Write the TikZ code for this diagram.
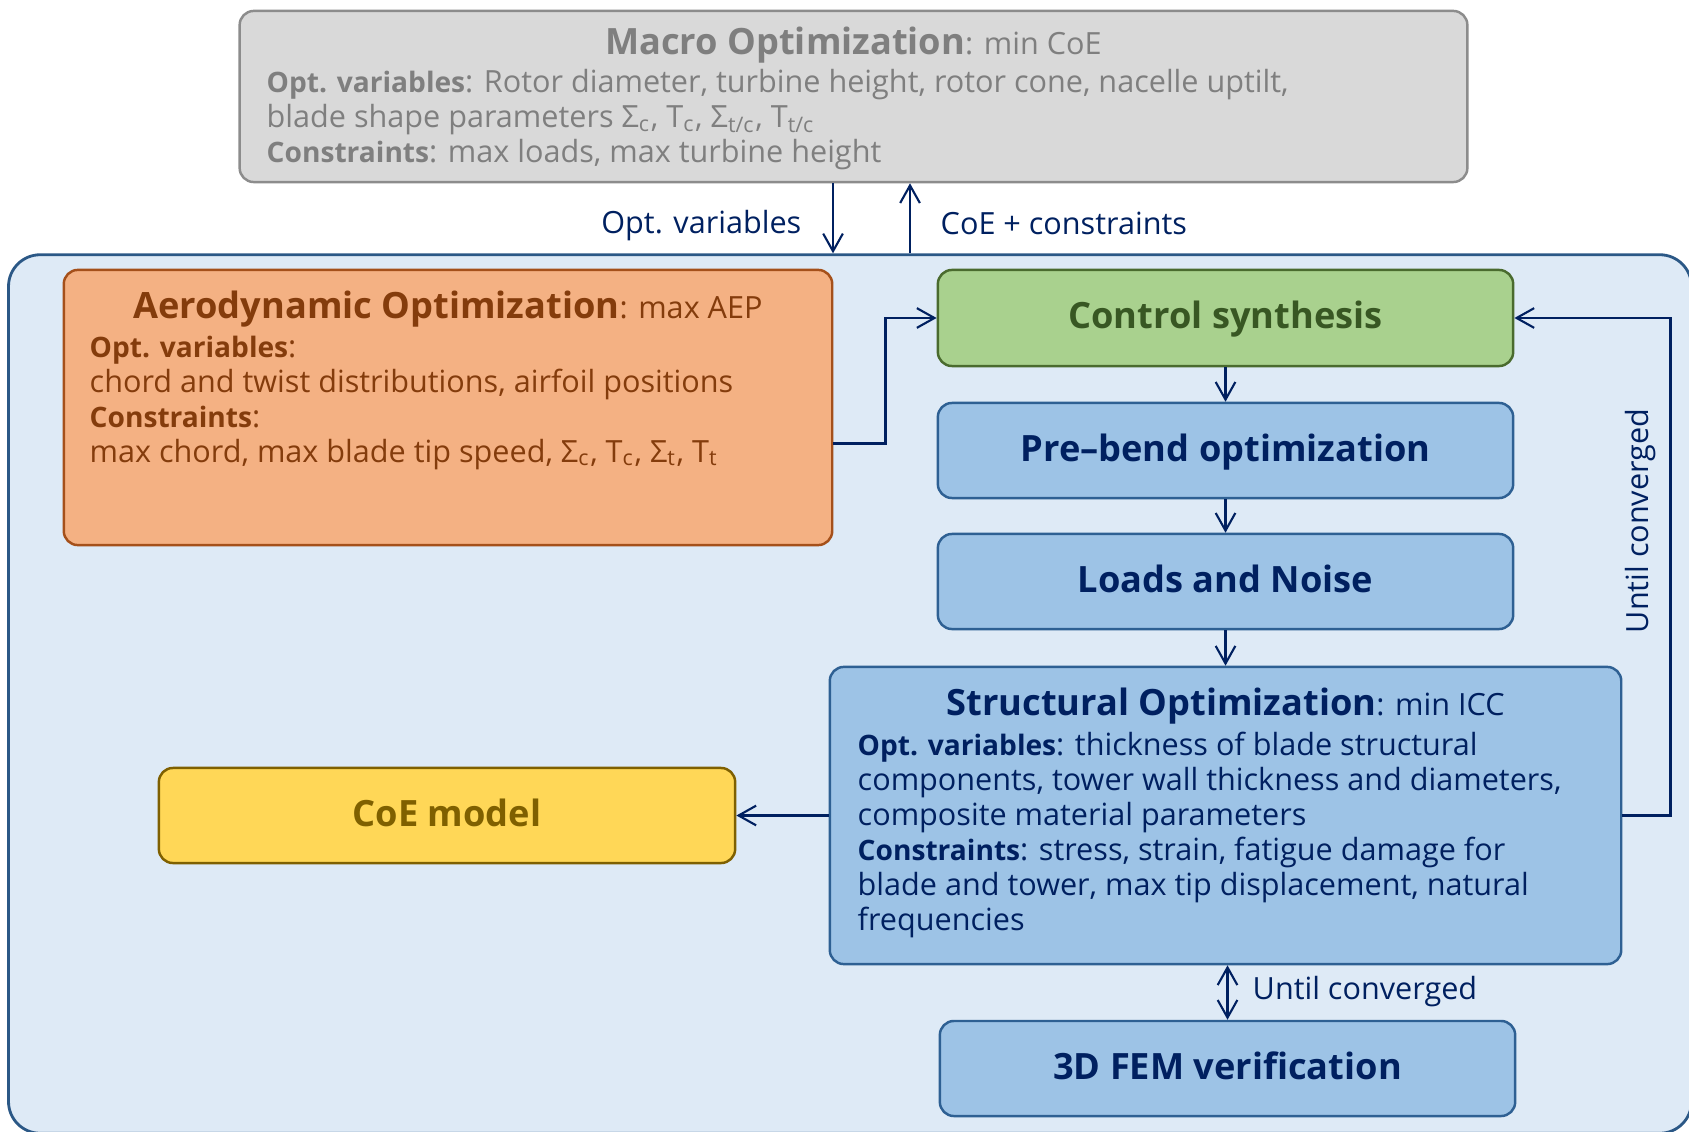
\documentclass[tikz,border=0pt]{standalone}
\usepackage{fontspec}
\setmainfont{Open Sans}
\usetikzlibrary{arrows.meta,positioning,calc}
\definecolor{chartframe}{HTML}{DEEAF6}
\definecolor{chartframeline}{HTML}{2B5886}
\definecolor{chartnavy}{HTML}{002060}
\definecolor{chartblue}{HTML}{9DC3E6}
\definecolor{chartblueline}{HTML}{2E6093}
\definecolor{chartgray}{HTML}{D9D9D9}
\definecolor{chartgrayline}{HTML}{8C8C8C}
\definecolor{chartgraytext}{HTML}{7F7F7F}
\definecolor{chartorange}{HTML}{F4B183}
\definecolor{chartorangeline}{HTML}{A5501A}
\definecolor{chartbrown}{HTML}{843C0C}
\definecolor{chartgreen}{HTML}{A9D18E}
\definecolor{chartgreenline}{HTML}{4A6B2E}
\definecolor{chartgreentext}{HTML}{385723}
\definecolor{chartyellow}{HTML}{FFD757}
\definecolor{chartyellowline}{HTML}{7F6000}
\newcommand{\chartbig}{\fontsize{10.3}{13}\selectfont\bfseries}
\newcommand{\chartsmall}{\fontsize{8.7}{9.96}\selectfont}
\newcommand{\chartkey}[1]{{\fontsize{8}{9.96}\selectfont\bfseries #1}}

\begin{document}
\begin{tikzpicture}[x=0.01cm,y=-0.01cm,>={Straight Barb[length=5pt,width=5.6pt]},
block/.style={draw,rounded corners=4pt,line width=0.7pt,inner sep=0pt},
bluebox/.style={block,fill=chartblue,draw=chartblueline,text=chartnavy,font=\chartbig,
  minimum width=5.75cm,minimum height=0.95cm,text height=8.5pt,text depth=2.5pt},
link/.style={->,draw=chartnavy,line width=0.6pt},
body/.style={inner sep=0pt,anchor=north west,align=left,font=\chartsmall},
label/.style={inner sep=0pt,text=chartnavy,font=\chartsmall}]
\clip (0,0) rectangle (1689,1131);
% outer loop frame, runs past the page edge
\node[draw=chartframeline,fill=chartframe,line width=0.8pt,rounded corners=9pt,
  minimum width=16.82cm,minimum height=8.78cm] (frame) at (850,694) {};

% macro level
\node[block,fill=chartgray,draw=chartgrayline,minimum width=12.27cm,minimum height=1.71cm] (macro) at (853.5,96.5) {};
\node[text=chartgraytext,font=\chartbig] (macrotitle) at (853.5,45) {Macro Optimization{\chartsmall\mdseries: min CoE}};
\node[body,text=chartgraytext] (macrobody) at (266,69) {\chartkey{Opt. variables}: Rotor diameter, turbine height, rotor cone, nacelle uptilt,\\
  blade shape parameters Σ\textsubscript{c}, T\textsubscript{c}, Σ\textsubscript{t/c}, T\textsubscript{t/c}\\
  \chartkey{Constraints}: max loads, max turbine height};

% aerodynamic level
\node[block,fill=chartorange,draw=chartorangeline,minimum width=7.68cm,minimum height=2.75cm] (aero) at (448,407.5) {};
\node[text=chartbrown,font=\chartbig] (aerotitle) at (448,309) {Aerodynamic Optimization{\chartsmall\mdseries: max AEP}};
\node[body,text=chartbrown] (aerobody) at (89,335) {\chartkey{Opt. variables}:\\
  chord and twist distributions, airfoil positions\\
  \chartkey{Constraints}:\\
  max chord, max blade tip speed, Σ\textsubscript{c}, T\textsubscript{c}, Σ\textsubscript{t}, T\textsubscript{t}};

% inner chain
\node[bluebox,fill=chartgreen,draw=chartgreenline,text=chartgreentext,minimum height=0.96cm] (control) at (1225.5,318) {Control synthesis};
\node[bluebox] (prebend) at (1225.5,450.5) {Pre–bend optimization};
\node[bluebox] (loads) at (1225.5,581.5) {Loads and Noise};
\node[block,fill=chartblue,draw=chartblueline,minimum width=7.91cm,minimum height=2.97cm] (struct) at (1225.5,815.5) {};
\node[text=chartnavy,font=\chartbig] (structtitle) at (1225.5,706) {Structural Optimization{\chartsmall\mdseries: min ICC}};
\node[body,text=chartnavy] (structbody) at (857,731) {\chartkey{Opt. variables}: thickness of blade structural\\
  components, tower wall thickness and diameters,\\
  composite material parameters\\
  \chartkey{Constraints}: stress, strain, fatigue damage for\\
  blade and tower, max tip displacement, natural\\
  frequencies};
\node[bluebox,fill=chartyellow,draw=chartyellowline,text=chartyellowline,minimum width=5.76cm] (coe) at (447,815.5) {CoE model};
\node[bluebox] (fem) at (1227.5,1068.5) {3D FEM verification};

% connectors
\coordinate (varsx) at (833,0);
\coordinate (coex) at (910,0);
\draw[link] (macro.south -| varsx) -- (frame.north -| varsx);
\draw[link] (frame.north -| coex) -- (macro.south -| coex);
\node[label,anchor=east] (varslabel) at (802,226) {Opt. variables};
\node[label,anchor=west] (coelabel) at (940,223) {CoE + constraints};
\draw[link] ([yshift=-0.36cm]aero.east) -- ++(52,0) |- (control.west);
\draw[link] (control) -- (prebend);
\draw[link] (prebend) -- (loads);
\draw[link] (loads) -- (struct);
\draw[link] (struct.west) -- (coe.east);
\draw[link] (struct.east) -- ++(48,0) |- (control.east);
\node[label,rotate=90] (looplabel) at (1641,521) {Until converged};
\draw[link,<->] (struct.south -| fem.north) -- (fem.north);
\node[label,anchor=west] (femlabel) at (1252,992) {Until converged};
\end{tikzpicture}
\end{document}
